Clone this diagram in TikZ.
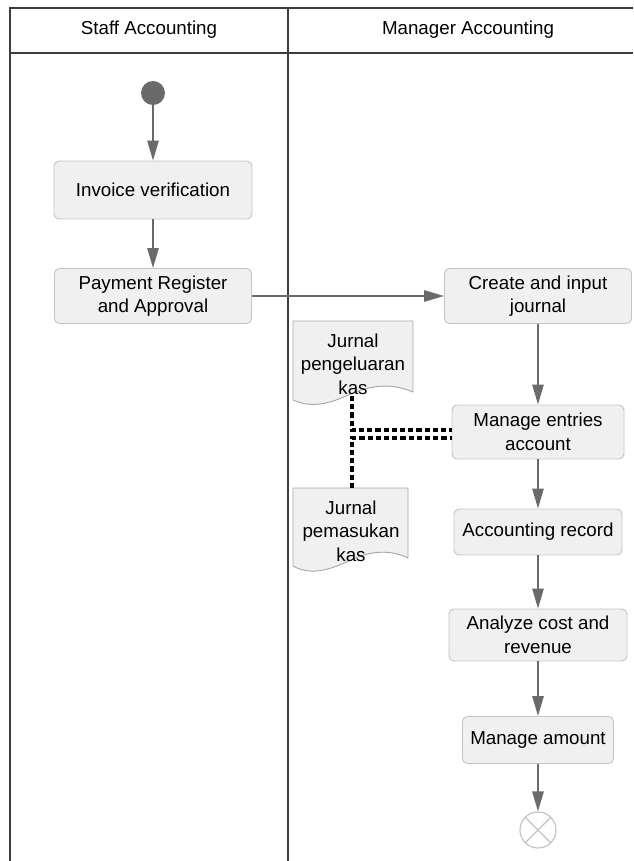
\documentclass[tikz,border=0pt]{standalone}
\usepackage{fontspec}
\setmainfont{Liberation Sans}
\usetikzlibrary{arrows.meta}
\definecolor{boxfill}{HTML}{F0F0F0}
\definecolor{boxline}{HTML}{C4C4C4}
\definecolor{flowgray}{HTML}{6A6A6A}
\definecolor{lanegray}{HTML}{3C3C3C}
\definecolor{docline}{HTML}{A8A8A8}
\tikzset{
	labeltext/.style={font=\fontsize{16}{20}\selectfont, align=center},
	activity/.style={labeltext, draw=boxline, fill=boxfill, line width=0.8pt, rounded corners=0.15cm, inner sep=0pt},
	flow/.style={draw=flowgray, line width=1.5pt, -{Triangle[length=0.6cm,width=0.34cm]}},
	dataflow/.style={draw=black, line width=2.8pt, dash pattern=on 4.5pt off 2.5pt},
	lane/.style={draw=lanegray, line width=1.5pt},
	docshape/.style={fill=boxfill, draw=docline, line width=0.8pt}
}
\begin{document}
\begin{tikzpicture}[x=0.03cm, y=-0.03cm]
		\useasboundingbox (0,0) rectangle (633,861);
		\draw[lane] (633,8) -- (10,8) -- (10,861);
		\draw[lane] (288,8) -- (288,861);
		\draw[lane] (10,53) -- (633,53);
		\node[labeltext] (stafflane) at (149,30) {Staff Accounting};
		\node[labeltext] (managerlane) at (468,30) {Manager Accounting};

		\node[circle, fill=flowgray, minimum size=0.72cm, inner sep=0pt] (start) at (153,93) {};
		\node[activity, minimum width=5.94cm, minimum height=1.74cm] (invoice) at (153,190) {Invoice verification};
		\node[activity, minimum width=5.91cm, minimum height=1.65cm] (payment) at (153,296) {Payment Register\\and Approval};
		\node[activity, minimum width=5.61cm, minimum height=1.65cm] (journal) at (538,296) {Create and input\\journal};
		\node[activity, minimum width=5.16cm, minimum height=1.62cm] (entries) at (538,432) {Manage entries\\account};
		\node[activity, minimum width=5.04cm, minimum height=1.38cm] (record) at (538,532) {Accounting record};
		\node[activity, minimum width=5.34cm, minimum height=1.56cm] (analyze) at (538,635) {Analyze cost and\\revenue};
		\node[activity, minimum width=4.53cm, minimum height=1.41cm] (amount) at (538,740) {Manage amount};
		\node[circle, draw=boxline, line width=1pt, fill=white, minimum size=1.08cm, inner sep=0pt] (finish) at (538,830) {};
		\draw[draw=boxline, line width=1pt] (finish.45) -- (finish.225) (finish.135) -- (finish.315);

		\filldraw[docshape] (293,321) -- (413,321) -- (413,392) .. controls (395,384) and (375,384) .. (353,393) .. controls (335,401) and (315,410) .. (293,400) -- cycle;
		\node[labeltext] (outdoc) at (353,364) {Jurnal\\pengeluaran\\kas};
		\filldraw[docshape] (293,488) -- (408,488) -- (408,558) .. controls (392,550) and (372,550) .. (351,560) .. controls (333,568) and (313,577) .. (293,566) -- cycle;
		\node[labeltext] (indoc) at (351,531) {Jurnal\\pemasukan\\kas};
		\coordinate (outdocfoot) at (352,396);
		\coordinate (indoctop) at (352,488);

		\draw[flow] (start) -- (invoice);
		\draw[flow] (invoice) -- (payment);
		\draw[flow] (payment) -- (journal);
		\draw[flow] (journal) -- (entries);
		\draw[flow] (entries) -- (record);
		\draw[flow] (record) -- (analyze);
		\draw[flow] (analyze) -- (amount);
		\draw[flow] (amount) -- (finish);
		\draw[dataflow] (outdocfoot) |- ([yshift=0.06cm]entries.west);
		\draw[dataflow] (indoctop) |- ([yshift=-0.18cm]entries.west);
	\end{tikzpicture}
\end{document}
